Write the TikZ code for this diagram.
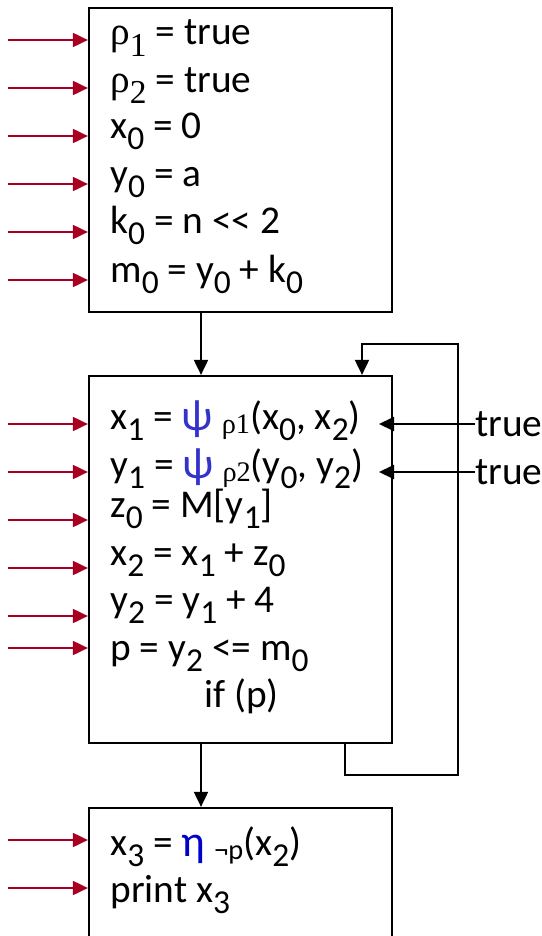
\documentclass[tikz,border=0pt]{standalone}
\usepackage{fontspec}
\setmainfont{Carlito}
\newfontfamily\grk{Liberation Serif}
\usetikzlibrary{arrows.meta}
\definecolor{inred}{RGB}{165,0,33}
\definecolor{psiblue}{RGB}{51,51,204}
\definecolor{etablue}{RGB}{0,0,204}
\newcommand\lo[1]{\raisebox{-.28em}{\scalebox{.85}{#1}}}
\newcommand\idx[1]{\raisebox{-.12em}{\scalebox{.72}{#1}}}
\newcommand\bigsym[1]{\raisebox{-.04em}{\scalebox{1.12}{#1}}}

\begin{document}
\begin{tikzpicture}[x=0.02cm,y=-0.02cm,
    font=\fontsize{22.4}{27}\selectfont,
    box/.style={draw,line width=1.3pt,inner sep=0,minimum width=6.06cm},
    line/.style={anchor=base west,inner sep=0},
    inarr/.style={draw=inred,line width=1.1pt,-{Triangle[length=0.3cm,width=0.28cm]}},
    flow/.style={line width=1.1pt,-{Triangle[length=0.3cm,width=0.28cm]}}]
    \useasboundingbox (0,0) rectangle (541,936);
    % blocks
    \node[box,minimum height=6.08cm] (b1) at (240.5,160) {};
    \node[box,minimum height=7.34cm] (b2) at (240.5,559.5) {};
    \node[box,minimum height=3.04cm] (b3) at (240.5,884) {};
    % first block
    \node[line] (r1) at (110,45) {{\grk ρ}\lo{\grk 1} = true};
    \node[line] (r2) at (110,92) {{\grk ρ}\lo{\grk 2} = true};
    \node[line] (x0) at (110,138) {x\lo{0} = 0};
    \node[line] (y0) at (110,186) {y\lo{0} = a};
    \node[line] (k0) at (110,233) {k\lo{0} = n <{}< 2};
    \node[line] (m0) at (110,282) {m\lo{0} = y\lo{0} + k\lo{0}};
    \foreach \y [count=\i] in {40,88,136,184,232,280}{
        \coordinate (a\i) at (8,\y);
        \draw[inarr] (a\i) -- (a\i -| b1.west);
    }
    % loop block
    \node[line] (x1) at (110,429) {x\lo{1} = \textcolor{psiblue}{\bigsym{ψ}} \idx{\grk ρ1}(x\lo{0}, x\lo{2})};
    \node[line] (y1) at (110,477) {y\lo{1} = \textcolor{psiblue}{\bigsym{ψ}} \idx{\grk ρ2}(y\lo{0}, y\lo{2})};
    \node[line] (z0) at (110,517) {z\lo{0} = M[y\lo{1}]};
    \node[line] (x2) at (110,565) {x\lo{2} = x\lo{1} + z\lo{0}};
    \node[line] (y2) at (110,612) {y\lo{2} = y\lo{1} + 4};
    \node[line] (p) at (110,660) {p = y\lo{2} <= m\lo{0}};
    \node[line] (if) at (204,707) {if (p)};
    \foreach \y [count=\i] in {424,472,520,568,616,648}{
        \coordinate (c\i) at (8,\y);
        \draw[inarr] (c\i) -- (c\i -| b2.west);
    }
    \node[anchor=west,inner sep=0] (t1) at (475,424) {true};
    \node[anchor=west,inner sep=0] (t2) at (475,472) {true};
    \draw[flow] (t1.west) -- ++(-96,0);
    \draw[flow] (t2.west) -- ++(-96,0);
    % exit block
    \node[line] (x3) at (110,855) {x\lo{3} = \textcolor{etablue}{\bigsym{η}} \idx{¬p}(x\lo{2})};
    \node[line] (pr) at (110,902) {print x\lo{3}};
    \foreach \y [count=\i] in {840,888}{
        \coordinate (e\i) at (8,\y);
        \draw[inarr] (e\i) -- (e\i -| b3.west);
    }
    % control flow
    \draw[flow] (b1.south -| 201,0) -- (b2.north -| 201,0);
    \draw[flow] (b2.south -| 201,0) -- (b3.north -| 201,0);
    \draw[flow] (b2.south -| 345,0) -- (345,775) -- (458,775)
        -- (458,344) -- (362,344) -- (b2.north -| 362,0);
\end{tikzpicture}
\end{document}
